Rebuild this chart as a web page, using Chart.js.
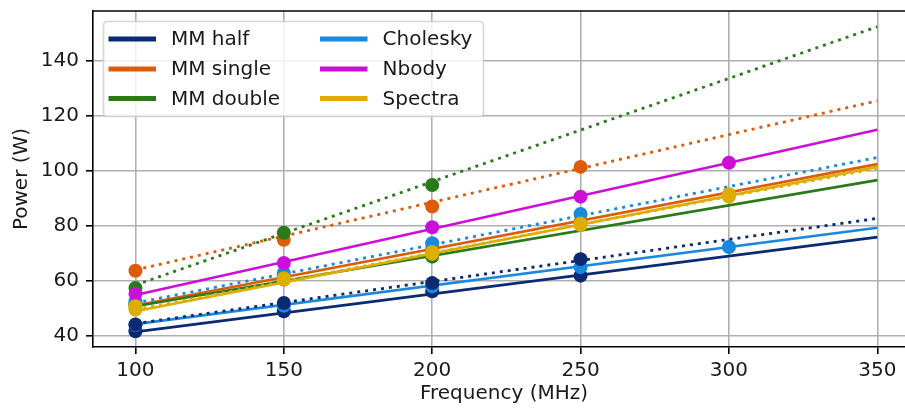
<!DOCTYPE html>
<html>
<head>
<meta charset="utf-8">
<script src="https://cdn.jsdelivr.net/npm/chart.js@4.4.1/dist/chart.umd.min.js"></script>
<style>
html,body{margin:0;padding:0;overflow:hidden;background:#fff;}
#wrap{width:905px;height:410px;overflow:hidden;position:relative;}
#c{position:absolute;left:0;top:0;}
</style>
</head>
<body>
<div id="wrap"><canvas id="c" width="915" height="410"></canvas></div>
<script>
// ---- data ----
const freqs = [100, 150, 200, 250, 300];
const fitX = [100, 350];
const xTicks = [100, 150, 200, 250, 300, 350];
const yTicks = [40, 60, 80, 100, 120, 140];
const seriesNames = ['MM half', 'MM single', 'MM double', 'Cholesky', 'Nbody', 'Spectra'];

// measured points, configuration A (solid fits)
const mmHalfA   = [41.7, 49.0, 56.2, 61.9];
const mmSingleA = [51.0, 61.5, 71.5, 81.5];
const mmDoubleA = [51.5, 60.5, 68.8];
const choleskyA = [44.0, 51.0, 58.0, 65.0, 72.3];
const spectraA  = [49.6, 60.5, 69.8, 80.3, 90.6];
// measured points, configuration B (dotted fits)
const mmHalfB   = [44.2, 52.0, 59.2, 67.9];
const mmSingleB = [63.7, 74.9, 87.0, 101.4];
const mmDoubleB = [57.4, 77.5, 94.8];
const choleskyB = [52.5, 62.9, 73.7, 84.3];
const nbody     = [55.3, 66.5, 79.5, 90.6, 102.9];
const spectraB  = [50.8, 61.0, 70.5, 80.8, 91.5];

// fitted lines: value at 100 MHz and at 350 MHz
const mmHalfFitA   = [41.5, 75.9];
const mmSingleFitA = [51.1, 102.4];
const mmDoubleFitA = [50.8, 96.6];
const choleskyFitA = [44.3, 79.3];
const spectraFitA  = [49.0, 101.4];
const mmHalfFitB   = [44.5, 82.7];
const mmSingleFitB = [64.0, 125.4];
const mmDoubleFitB = [58.5, 152.3];
const choleskyFitB = [52.0, 104.8];
const nbodyFit     = [54.9, 114.9];
const spectraFitB  = [49.6, 100.9];

// ---- styles ----
const C = {
  navy: '#0a2a72', orange: '#dd5c0a', green: '#2a7a1a',
  blue: '#1a88dd', magenta: '#cc0fd8', gold: '#dcae00'
};
const legendColors = [C.navy, C.orange, C.green, C.blue, C.magenta, C.gold];
const FONT = "'DejaVu Sans', sans-serif";

const pts = (arr) => arr.map((v, i) => ({x: freqs[i], y: v}));
const fit = (arr) => arr.map((v, i) => ({x: fitX[i], y: v}));

function scatterDs(arr, color) {
  return {type: 'scatter', data: pts(arr), showLine: false, pointRadius: 7,
    pointHoverRadius: 7, backgroundColor: color, borderColor: color, borderWidth: 0};
}
function lineDs(arr, color, dotted) {
  return {type: 'scatter', data: fit(arr), showLine: true, pointRadius: 0, pointHoverRadius: 0,
    borderColor: color, backgroundColor: color, borderWidth: dotted ? 2.8 : 2.6,
    borderDash: dotted ? [3, 5] : [], borderCapStyle: 'butt', fill: false};
}

const list = [
  scatterDs(mmHalfA, C.navy), lineDs(mmHalfFitA, C.navy, false),
  scatterDs(mmSingleA, C.orange), lineDs(mmSingleFitA, C.orange, false),
  scatterDs(mmDoubleA, C.green), lineDs(mmDoubleFitA, C.green, false),
  scatterDs(choleskyA, C.blue), lineDs(choleskyFitA, C.blue, false),
  scatterDs(spectraA, C.gold), lineDs(spectraFitA, C.gold, false),
  scatterDs(mmHalfB, C.navy), lineDs(mmHalfFitB, C.navy, true),
  scatterDs(mmSingleB, C.orange), lineDs(mmSingleFitB, C.orange, true),
  scatterDs(mmDoubleB, C.green), lineDs(mmDoubleFitB, C.green, true),
  scatterDs(choleskyB, C.blue), lineDs(choleskyFitB, C.blue, true),
  scatterDs(nbody, C.magenta), lineDs(nbodyFit, C.magenta, false),
  scatterDs(spectraB, C.gold), lineDs(spectraFitB, C.gold, true)
];
list.forEach((d, i) => { d.order = list.length - i; });

const mplFrame = {
  id: 'mplFrame',
  afterDatasetsDraw(chart) {
    const ctx = chart.ctx, a = chart.chartArea;
    ctx.save();
    // top spine
    ctx.strokeStyle = '#000'; ctx.lineWidth = 1.6;
    ctx.beginPath(); ctx.moveTo(a.left - 0.8, a.top); ctx.lineTo(a.right, a.top); ctx.stroke();
    // legend box
    const bx = 103.5, by = 21.5, bw = 380, bh = 95, r = 4;
    ctx.beginPath();
    ctx.moveTo(bx + r, by); ctx.lineTo(bx + bw - r, by); ctx.quadraticCurveTo(bx + bw, by, bx + bw, by + r);
    ctx.lineTo(bx + bw, by + bh - r); ctx.quadraticCurveTo(bx + bw, by + bh, bx + bw - r, by + bh);
    ctx.lineTo(bx + r, by + bh); ctx.quadraticCurveTo(bx, by + bh, bx, by + bh - r);
    ctx.lineTo(bx, by + r); ctx.quadraticCurveTo(bx, by, bx + r, by);
    ctx.closePath();
    ctx.fillStyle = 'rgba(255,255,255,0.8)'; ctx.fill();
    ctx.strokeStyle = 'rgba(204,204,204,0.8)'; ctx.lineWidth = 1.6; ctx.stroke();
    // legend entries (2 columns, column-major)
    ctx.font = '20px ' + FONT; ctx.textBaseline = 'middle'; ctx.fillStyle = '#1a1a1a';
    const colX = [108.5, 320];
    const rowY = [39, 69, 98.5];
    seriesNames.forEach((name, i) => {
      const col = Math.floor(i / 3), row = i % 3;
      const x = colX[col], y = rowY[row];
      ctx.strokeStyle = legendColors[i]; ctx.lineWidth = 5; ctx.lineCap = 'butt';
      ctx.beginPath(); ctx.moveTo(x, y); ctx.lineTo(x + 47.5, y); ctx.stroke();
      ctx.fillText(name, x + 62.5, y + 1);
    });
    ctx.restore();
  }
};

new Chart(document.getElementById('c'), {
  type: 'scatter',
  data: {datasets: list},
  options: {
    responsive: false, animation: false, devicePixelRatio: 1,
    layout: {autoPadding: false, padding: {left: 0, right: 0, top: 11, bottom: 0}},
    plugins: {legend: {display: false}, tooltip: {enabled: false}},
    scales: {
      x: {
        type: 'linear', min: 85.7, max: 362.7,
        afterBuildTicks: (s) => { s.ticks = xTicks.map(v => ({value: v})); },
        afterFit: (s) => { s.height = 63; s.paddingLeft = 0; s.paddingRight = 0; },
        grid: {color: '#b0b0b0', lineWidth: 1.6, tickLength: 7, tickColor: '#000', tickWidth: 1.6},
        border: {color: '#000', width: 1.6},
        ticks: {font: {family: FONT, size: 20}, color: '#1a1a1a', padding: 5, maxRotation: 0},
        title: {display: true, text: 'Frequency (MHz)', font: {family: FONT, size: 20}, color: '#1a1a1a',
                padding: {top: 0, bottom: 4}}
      },
      y: {
        type: 'linear', min: 36.0, max: 158.0,
        afterBuildTicks: (s) => { s.ticks = yTicks.map(v => ({value: v})); },
        afterFit: (s) => { s.width = 93; s.paddingTop = 0; s.paddingBottom = 0; },
        grid: {color: '#b0b0b0', lineWidth: 1.6, tickLength: 7, tickColor: '#000', tickWidth: 1.6},
        border: {color: '#000', width: 1.6},
        ticks: {font: {family: FONT, size: 20}, color: '#1a1a1a', padding: 7},
        title: {display: true, text: 'Power (W)', font: {family: FONT, size: 20}, color: '#1a1a1a',
                padding: {top: 10, bottom: 0}}
      }
    }
  },
  plugins: [mplFrame]
});
</script>
</body>
</html>
